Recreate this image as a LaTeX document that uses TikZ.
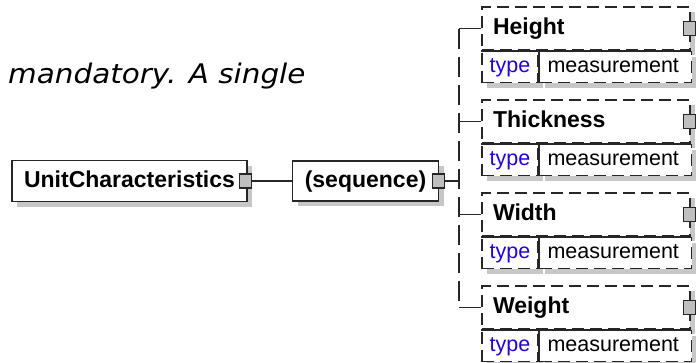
\documentclass[tikz,border=0pt]{standalone}
\usepackage{fontspec}
\setmainfont{Liberation Sans}
\newfontfamily\notefont{DejaVu Sans}
\usetikzlibrary{positioning, shadows}

\begin{document}
\begin{tikzpicture}[x=1pt, y=-1pt,
			elem/.style={rectangle, draw=black!85, line width=1.5pt, fill=white, minimum height=41pt, inner sep=0pt, text height=17pt, text depth=5pt, font=\fontsize{23}{27}\selectfont\bfseries, drop shadow={shadow xshift=5pt, shadow yshift=-5pt, fill=black!22, opacity=1}},
			optelem/.style={elem, dash pattern=on 12pt off 6pt, minimum width=208pt, minimum height=43pt, text width=186pt, inner xsep=11pt, align=left},
			typecell/.style={rectangle, draw=black!85, line width=1.5pt, dash pattern=on 12pt off 6pt, fill=white, minimum height=31pt, inner sep=0pt, text height=16pt, text depth=5pt, font=\fontsize{21.5}{25}\selectfont, drop shadow={shadow xshift=5pt, shadow yshift=-5pt, fill=black!22, opacity=1}},
			typelabel/.style={typecell, minimum width=56pt, text=blue!85!red},
			typeval/.style={typecell, text width=136pt, inner xsep=8pt, align=left},
			expander/.style={rectangle, draw=black!85, line width=1.2pt, fill=black!25, minimum width=12pt, minimum height=14pt, inner sep=0pt},
			link/.style={draw=black!85, line width=1.5pt},
			branch/.style={link, dash pattern=on 20pt off 8pt},
			note/.style={font=\notefont\itshape\fontsize{27}{32}\selectfont, inner sep=0pt}
			]
			\useasboundingbox (0,0) rectangle (696,362);
			\node[note, anchor=base west] (note) at (8,83) {\scalebox{1.09}[1]{mandatory. A single}};
			
			\node[elem, minimum width=235pt] (unit) at (129.5,181) {UnitCharacteristics};
			\node[elem, minimum width=146pt, minimum height=40pt, right=44pt of unit] (seq) {(sequence)};
			\node[expander, xshift=-2pt] (unitexp) at (unit.east) {};
			\node[expander, xshift=-1pt] (seqexp) at (seq.east) {};
			\coordinate (fork) at (459,181);
			\draw[link] (unitexp) -- (seq);
			\draw[link] (seqexp) -- (fork);
			
			\node[optelem] (height) at (586,28.5) {Height};
			\node[typelabel, anchor=north west] (heighttype) at (height.south west) {type};
			\node[typeval, right=0pt of heighttype] (heightval) {measurement};
			\node[expander, xshift=-1pt] (heightexp) at (height.east) {};
			\draw[link] (height.south west) -- (height.south east);
			\draw[link] (heighttype.north east) -- (heighttype.south east);
			
			\node[optelem] (thickness) at (586,121.5) {Thickness};
			\node[typelabel, anchor=north west] (thicknesstype) at (thickness.south west) {type};
			\node[typeval, right=0pt of thicknesstype] (thicknessval) {measurement};
			\node[expander, xshift=-1pt] (thicknessexp) at (thickness.east) {};
			\draw[link] (thickness.south west) -- (thickness.south east);
			\draw[link] (thicknesstype.north east) -- (thicknesstype.south east);
			
			\node[optelem] (width) at (586,214.5) {Width};
			\node[typelabel, anchor=north west] (widthtype) at (width.south west) {type};
			\node[typeval, right=0pt of widthtype] (widthval) {measurement};
			\node[expander, xshift=-1pt] (widthexp) at (width.east) {};
			\draw[link] (width.south west) -- (width.south east);
			\draw[link] (widthtype.north east) -- (widthtype.south east);
			
			\node[optelem] (weight) at (586,307.5) {Weight};
			\node[typelabel, anchor=north west] (weighttype) at (weight.south west) {type};
			\node[typeval, right=0pt of weighttype] (weightval) {measurement};
			\node[expander, xshift=-1pt] (weightexp) at (weight.east) {};
			\draw[link] (weight.south west) -- (weight.south east);
			\draw[link] (weighttype.north east) -- (weighttype.south east);
			
			\draw[branch] (fork |- height.west) -- (fork |- weight.west);
			\draw[link] (fork |- height.west) -- (height.west);
			\draw[link] (fork |- thickness.west) -- (thickness.west);
			\draw[link] (fork |- width.west) -- (width.west);
			\draw[link] (fork |- weight.west) -- (weight.west);
		\end{tikzpicture}
\end{document}
